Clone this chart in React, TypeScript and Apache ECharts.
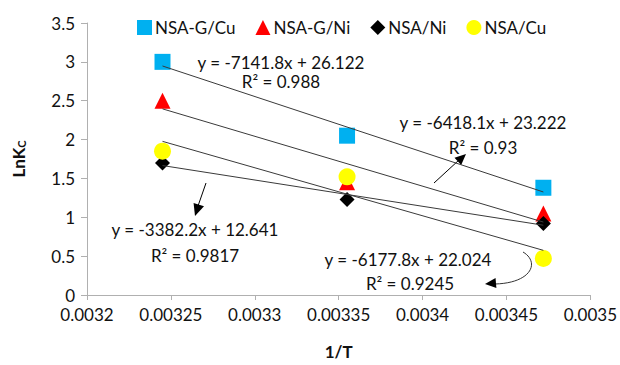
import React, { useEffect, useRef } from "react";
import * as echarts from "echarts";

const invT = [0.003245, 0.003355, 0.003472];
const seriesNames = ["NSA-G/Cu", "NSA-G/Ni", "NSA/Ni", "NSA/Cu"];
const nsaGCu = [3.0, 2.05, 1.38];
const nsaGNi = [2.5, 1.45, 1.05];
const nsaNi = [1.7, 1.23, 0.92];
const nsaCu = [1.85, 1.52, 0.47];
const slopes = [-7141.8, -6418.1, -3382.2, -6177.8];
const intercepts = [26.122, 23.222, 12.641, 22.024];
const r2 = ["0.988", "0.93", "0.9817", "0.9245"];

const FONT = "Lato";
const colors = ["#00b0f0", "#ff0000", "#000000", "#ffff00"];
const symbols = ["rect", "triangle", "diamond", "circle"];
const sizes = [16, 16, 15, 17];

function arrowHead(tx: number, ty: number, fx: number, fy: number, len: number, half: number) {
  const dx = tx - fx, dy = ty - fy;
  const d = Math.hypot(dx, dy);
  const ux = dx / d, uy = dy / d;
  const bx = tx - ux * len, by = ty - uy * len;
  return {
    type: "polygon",
    shape: { points: [[tx, ty], [bx - uy * half, by + ux * half], [bx + uy * half, by - ux * half]] },
    style: { fill: "#000" },
    silent: true,
  };
}

export default function App() {
  const ref = useRef<HTMLDivElement>(null);
  useEffect(() => {
    const chart = echarts.init(ref.current!, null, { renderer: "svg" });
    const values = [nsaGCu, nsaGNi, nsaNi, nsaCu];
    const xMin = Math.min(...invT), xMax = Math.max(...invT);
    const scatter = values.map((v, i) => ({
      name: seriesNames[i],
      type: "scatter",
      symbol: symbols[i],
      symbolSize: sizes[i],
      itemStyle: { color: colors[i], opacity: 1 },
      data: invT.map((x, j) => [x, v[j]]),
      z: 3,
    }));
    const trends = slopes.map((m, i) => ({
      name: "trend" + i,
      type: "line",
      showSymbol: false,
      symbol: "none",
      lineStyle: { color: "#3a3a3a", width: 1 },
      data: [[xMin, m * xMin + intercepts[i]], [xMax, m * xMax + intercepts[i]]],
      z: 4,
    }));
    const eq = (i: number) => `y = ${slopes[i]}x + ${intercepts[i]}`;
    const labelPos = [
      [281, 62, 281, 81],
      [483, 122, 483, 147],
      [195, 229, 195, 255],
      [408, 259, 410, 283],
    ];
    const texts: any[] = [];
    labelPos.forEach((p, i) => {
      texts.push({
        type: "text",
        x: p[0], y: p[1],
        style: { text: eq(i), font: `17px ${FONT}`, fill: "#111", align: "center", verticalAlign: "middle" },
        silent: true,
      });
      texts.push({
        type: "text",
        x: p[2], y: p[3],
        style: { text: `R² = ${r2[i]}`, font: `17px ${FONT}`, fill: "#111", align: "center", verticalAlign: "middle" },
        silent: true,
      });
    });
    const arrows: any[] = [
      { type: "line", shape: { x1: 434, y1: 183, x2: 459, y2: 160 }, style: { stroke: "#000", lineWidth: 1 }, silent: true },
      arrowHead(466, 154, 434, 183, 11, 5),
      { type: "line", shape: { x1: 206, y1: 183, x2: 198, y2: 206 }, style: { stroke: "#000", lineWidth: 1 }, silent: true },
      arrowHead(195, 216, 206, 183, 12, 5.5),
      {
        type: "bezierCurve",
        shape: { x1: 523, y1: 252, cpx1: 540, cpy1: 262, cpx2: 532, cpy2: 283, x2: 495, y2: 284 },
        style: { stroke: "#333", lineWidth: 1, fill: null },
        silent: true,
      },
      arrowHead(485, 284, 497, 283, 11, 5),
    ];
    chart.setOption({
      animation: false,
      backgroundColor: "#fff",
      textStyle: { fontFamily: FONT },
      grid: { left: 87, right: 29, top: 23, bottom: 67, containLabel: false },
      legend: {
        data: seriesNames,
        left: 132,
        top: 14,
        itemWidth: 15,
        itemHeight: 15,
        itemGap: 20,
        textStyle: { fontSize: 17, color: "#111", fontFamily: FONT, padding: [0, 0, 0, -2] },
      },
      xAxis: {
        type: "value",
        min: 0.0032,
        max: 0.0035,
        interval: 0.00005,
        name: "1/T",
        nameLocation: "middle",
        nameGap: 48,
        nameTextStyle: { fontSize: 17, fontWeight: "bold", color: "#111", fontFamily: FONT },
        axisLine: { lineStyle: { color: "#b0b0b0" } },
        axisTick: { show: true, length: 5, lineStyle: { color: "#b0b0b0" } },
        splitLine: { show: false },
        axisLabel: {
          fontSize: 17,
          color: "#111",
          margin: 11,
          formatter: (v: number) => String(parseFloat(v.toFixed(5))),
        },
      },
      yAxis: {
        type: "value",
        min: 0,
        max: 3.5,
        interval: 0.5,
        name: "LnK{s|C}",
        nameLocation: "middle",
        nameGap: 60,
        nameRotate: 90,
        nameTextStyle: {
          fontSize: 17,
          fontWeight: "bold",
          color: "#111",
          fontFamily: FONT,
          rich: { s: { fontSize: 11, fontWeight: "bold", color: "#111", fontFamily: FONT, verticalAlign: "bottom", padding: [6, 0, 0, 0] } },
        },
        axisLine: { show: true, lineStyle: { color: "#b0b0b0" } },
        axisTick: { show: true, length: 6, lineStyle: { color: "#b0b0b0" } },
        splitLine: { show: false },
        axisLabel: { fontSize: 17, color: "#111", margin: 12 },
      },
      graphic: [...texts, ...arrows],
      series: [...trends, ...scatter],
    });
    return () => chart.dispose();
  }, []);
  return <div ref={ref} style={{ width: 620, height: 365, position: "absolute", left: 0, top: 0 }} />;
}
